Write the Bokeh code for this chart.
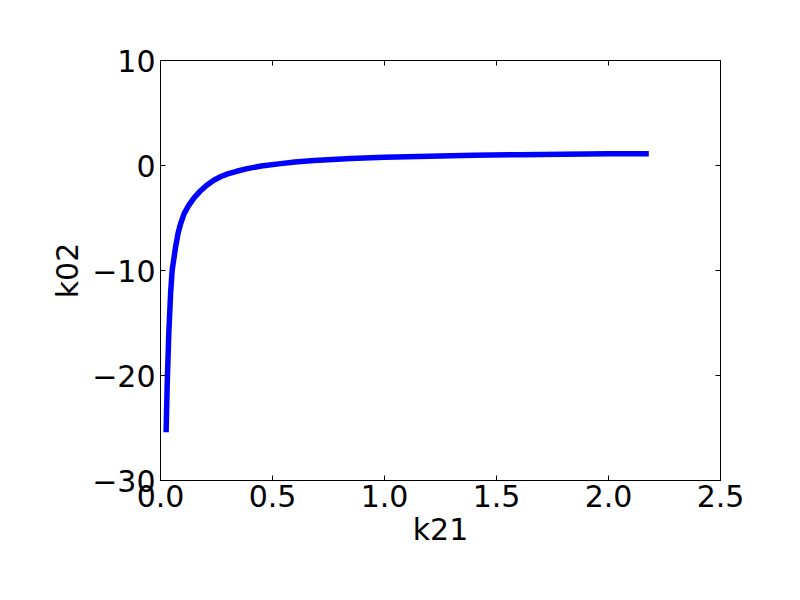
from bokeh.plotting import figure
from bokeh.models import LinearAxis, FixedTicker, Range1d
from bokeh.embed import file_html
from bokeh.resources import INLINE

k21 = [0.025, 0.030, 0.037, 0.045, 0.052, 0.067, 0.078, 0.089, 0.105, 0.126, 0.149, 0.179,
       0.205, 0.238, 0.27, 0.30, 0.34, 0.387, 0.45, 0.536, 0.6, 0.685, 0.85, 1.0, 1.2, 1.4,
       1.6, 1.8, 2.0, 2.18]
k02 = [-25.4, -20.8, -16.0, -12.2, -10.0, -7.8, -6.5, -5.6, -4.6, -3.8, -3.1, -2.4,
       -1.9, -1.4, -1.05, -0.8, -0.55, -0.3, -0.05, 0.18, 0.33, 0.47, 0.66, 0.78, 0.89, 0.97,
       1.03, 1.08, 1.11, 1.13]

x_ticks = [0.0, 0.5, 1.0, 1.5, 2.0, 2.5]
x_tick_labels = ["0.0", "0.5", "1.0", "1.5", "2.0", "2.5"]
y_ticks = [-30, -20, -10, 0, 10]
y_tick_labels = ["\u221230", "\u221220", "\u221210", "0", "10"]

FONT = "DejaVu Sans"
FS = "30px"

p = figure(width=784, height=584, output_backend="svg", toolbar_location=None,
           x_range=Range1d(0, 2.5), y_range=Range1d(-30, 10),
           x_axis_label="k21", y_axis_label="k02")
p.min_border_left = 160
p.min_border_right = 64
p.min_border_top = 60
p.min_border_bottom = 104
p.grid.visible = False
p.outline_line_color = "black"
p.outline_line_width = 1
p.background_fill_color = "white"
p.border_fill_color = "white"

p.line(k21, k02, line_color="#0000ff", line_width=5.5, line_join="round")

def style(ax, ticks, labels, show_labels=True):
    ax.ticker = FixedTicker(ticks=ticks)
    ax.major_label_overrides = {t: l for t, l in zip(ticks, labels)}
    ax.minor_tick_line_color = None
    ax.major_tick_in = 5
    ax.major_tick_out = 0
    ax.major_tick_line_color = "black"
    ax.axis_line_color = "black"
    ax.major_label_text_font = FONT
    ax.major_label_text_font_size = FS
    ax.major_label_text_color = "black"
    ax.axis_label_text_font = FONT
    ax.axis_label_text_font_size = FS
    ax.axis_label_text_font_style = "normal"
    ax.axis_label_text_color = "black"
    if not show_labels:
        ax.major_label_text_color = None

xa = p.xaxis[0]
ya = p.yaxis[0]
style(xa, x_ticks, x_tick_labels)
style(ya, y_ticks, y_tick_labels)
xa.major_label_standoff = 4
xa.axis_label_standoff = 2
ya.major_label_standoff = 5
ya.axis_label_standoff = 4

top = LinearAxis()
style(top, x_ticks, x_tick_labels, show_labels=False)
top.major_label_text_font_size = "0px"
p.add_layout(top, "above")
right = LinearAxis()
style(right, y_ticks, y_tick_labels, show_labels=False)
right.major_label_text_font_size = "0px"
p.add_layout(right, "right")

open("out.html", "w").write(file_html(p, INLINE))
